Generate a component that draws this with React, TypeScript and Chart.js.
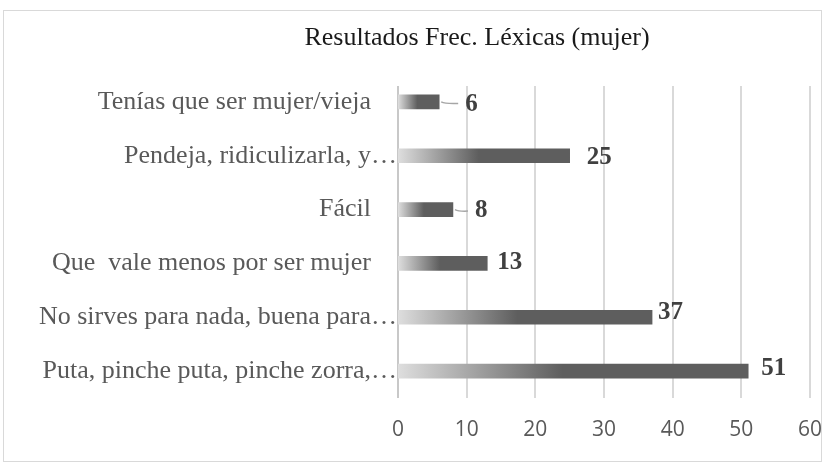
import React, { useEffect, useRef } from "react";
import { Chart, registerables } from "chart.js";

Chart.register(...registerables);

const categories = [
  "Tenías que ser mujer/vieja",
  "Pendeja, ridiculizarla, y…",
  "Fácil",
  "Que  vale menos por ser mujer",
  "No sirves para nada, buena para…",
  "Puta, pinche puta, pinche zorra,…",
];
const values = [6, 25, 8, 13, 37, 51];
const tickValues = [0, 10, 20, 30, 40, 50, 60];
const titleText = "Resultados Frec. Léxicas (mujer)";

// label placement (manual offsets in px from bar end)
const labelDx = [26, 17, 22, 10, 6, 13];
const labelDy = [3, 2, 1, -1, -5, -3];
const leader = [true, false, true, false, false, false];

const decorPlugin = {
  id: "decor",
  beforeDraw(chart: any) {
    const c = chart.ctx;
    c.save();
    c.fillStyle = "#ffffff";
    c.fillRect(0, 0, chart.width, chart.height);
    c.strokeStyle = "#d9d9d9";
    c.lineWidth = 1;
    c.strokeRect(3.5, 10.5, 818, 451);
    c.restore();
  },
  beforeDatasetsDraw(chart: any) {
    const c = chart.ctx;
    const area = chart.chartArea;
    const xs = chart.scales.x;
    c.save();
    c.lineWidth = 2;
    tickValues.forEach((v) => {
      const px = Math.round(xs.getPixelForValue(v));
      c.strokeStyle = v === 0 ? "#c8c8c8" : "#d9d9d9";
      c.beginPath();
      c.moveTo(px, area.top + 11);
      c.lineTo(px, area.bottom);
      c.stroke();
    });
    c.restore();
  },
  afterDatasetsDraw(chart: any) {
    const c = chart.ctx;
    const meta = chart.getDatasetMeta(0);
    c.save();
    c.font = "bold 25px 'Liberation Serif'";
    c.fillStyle = "#404040";
    c.textAlign = "left";
    c.textBaseline = "middle";
    meta.data.forEach((bar: any, i: number) => {
      const x = bar.x + labelDx[i];
      const y = bar.y + labelDy[i];
      if (leader[i]) {
        c.strokeStyle = "#a6a6a6";
        c.lineWidth = 1.5;
        c.beginPath();
        c.moveTo(bar.x + 2, bar.y);
        c.quadraticCurveTo(bar.x + 6, bar.y + 2, x - 7, bar.y + 1.5);
        c.stroke();
      }
      c.fillText(String(values[i]), x, y);
    });
    // title
    c.font = "26px 'Liberation Serif'";
    c.fillStyle = "#1a1a1a";
    c.textAlign = "center";
    c.fillText(titleText, 477, 38);
    c.restore();
  },
};

export default function App() {
  const ref = useRef<HTMLCanvasElement | null>(null);
  useEffect(() => {
    document.body.style.margin = "0";
    const canvas = ref.current!;
    const chart = new Chart(canvas, {
      type: "bar",
      data: {
        labels: categories,
        datasets: [
          {
            data: values,
            barThickness: 14,
            backgroundColor: (ctx: any) => {
              const ch = ctx.chart;
              if (!ch.chartArea || ctx.type !== "data") return "#5e5e5e";
              const xs = ch.scales.x;
              const x0 = xs.getPixelForValue(0);
              const x1 = xs.getPixelForValue(ctx.raw);
              const g = ch.ctx.createLinearGradient(x0, 0, x1, 0);
              g.addColorStop(0, "#dedede");
              g.addColorStop(0.47, "#5e5e5e");
              g.addColorStop(1, "#5e5e5e");
              return g;
            },
            borderWidth: 0,
          },
        ],
      },
      options: {
        indexAxis: "y",
        responsive: false,
        animation: false,
        layout: { padding: { left: 0, top: 75, right: 17, bottom: 0 } },
        plugins: {
          legend: { display: false },
          title: { display: false },
          tooltip: { enabled: false },
        },
        scales: {
          x: {
            min: 0,
            max: 60,
            afterFit: (s: any) => {
              s.height = 68;
              s.paddingLeft = 0;
              s.paddingRight = 0;
            },
            afterBuildTicks: (s: any) => {
              s.ticks = tickValues.map((v) => ({ value: v }));
            },
            grid: { display: false, drawTicks: false },
            border: { display: false },
            ticks: {
              padding: 19,
              color: "#595959",
              font: { family: "'Open Sans'", size: 21 },
            },
          },
          y: {
            afterFit: (s: any) => {
              s.width = 398;
              s.paddingTop = 0;
              s.paddingBottom = 0;
            },
            grid: { display: false, drawTicks: false },
            border: { display: false },
            ticks: {
              padding: 1,
              color: "#595959",
              font: { family: "'Liberation Serif'", size: 26 },
              callback: function (this: any, value: any) {
                const l = categories[value as number];
                return l.endsWith("…") ? l : l + "    ";
              },
            },
          },
        },
      },
      plugins: [decorPlugin],
    } as any);
    return () => chart.destroy();
  }, []);
  return (
    <div style={{ position: "absolute", left: 0, top: 0, width: 827, height: 466 }}>
      <canvas ref={ref} width={827} height={466} />
    </div>
  );
}
